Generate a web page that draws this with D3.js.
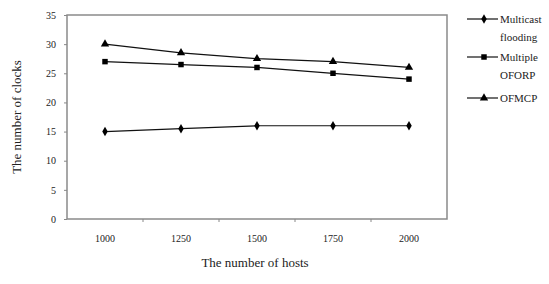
<!DOCTYPE html>
<html>
<head>
<meta charset="utf-8">
<script src="https://cdn.jsdelivr.net/npm/d3@7"></script>
<style>
  body { margin: 0; background: #fff; }
  text { font-family: "Liberation Serif", "DejaVu Serif", serif; fill: #222; }
</style>
</head>
<body>
<svg id="chart" width="549" height="284"></svg>
<script>
const hosts = ['1000', '1250', '1500', '1750', '2000'];
const yTicks = [0, 5, 10, 15, 20, 25, 30, 35];
const flooding = [15, 15.5, 16, 16, 16];
const oforp = [27, 26.5, 26, 25, 24];
const ofmcp = [30, 28.5, 27.5, 27, 26];

const seriesNames = [['Multicast', 'flooding'], ['Multiple', 'OFORP'], ['OFMCP']];
const seriesValues = [flooding, oforp, ofmcp];
const symbols = [d3.symbolDiamond, d3.symbolSquare, d3.symbolTriangle];
const symbolSizes = [26, 30, 30];

const svg = d3.select('#chart');
const plot = { left: 67, right: 447, top: 15, bottom: 219 };

const x = d3.scaleBand().domain(hosts).range([plot.left, plot.right]);
const y = d3.scaleLinear().domain([0, 35]).range([plot.bottom, plot.top]);

// frame
svg.append('rect')
  .attr('x', plot.left).attr('y', plot.top)
  .attr('width', plot.right - plot.left).attr('height', plot.bottom - plot.top)
  .attr('fill', 'none').attr('stroke', '#8a8a8a').attr('stroke-width', 1.5);

// y axis
const yAxis = svg.append('g')
  .attr('transform', `translate(${plot.left},0)`)
  .call(d3.axisLeft(y).tickValues(yTicks).tickSize(3).tickPadding(8));
yAxis.select('.domain').remove();
yAxis.selectAll('line').attr('stroke', '#888');
yAxis.selectAll('text').style('font-size', '10px').attr('fill', '#333')
  .style('font-family', '"Liberation Serif", serif');

// x axis, ticks between categories
const xAxis = svg.append('g')
  .attr('transform', `translate(0,${plot.bottom})`)
  .call(d3.axisBottom(x).tickSize(0).tickPadding(16));
xAxis.select('.domain').remove();
xAxis.selectAll('text').style('font-size', '10px').attr('fill', '#333')
  .style('font-family', '"Liberation Serif", serif');
svg.append('g').selectAll('line')
  .data(hosts.slice(1))
  .join('line')
  .attr('x1', d => x(d)).attr('x2', d => x(d))
  .attr('y1', plot.bottom).attr('y2', plot.bottom + 3)
  .attr('stroke', '#888');

// axis titles
svg.append('text')
  .attr('transform', `translate(21,${(plot.top + plot.bottom) / 2}) rotate(-90)`)
  .attr('text-anchor', 'middle')
  .style('font-size', '13px')
  .text('The number of clocks');
svg.append('text')
  .attr('x', (plot.left + plot.right) / 2 - 2).attr('y', 267)
  .attr('text-anchor', 'middle')
  .style('font-size', '13px')
  .text('The number of hosts');

// series
const line = d3.line()
  .x((d, i) => x(hosts[i]) + x.bandwidth() / 2)
  .y(d => y(d));

seriesValues.forEach((vals, s) => {
  svg.append('path')
    .datum(vals)
    .attr('d', line)
    .attr('fill', 'none').attr('stroke', '#111').attr('stroke-width', 1.2);
  svg.append('g').selectAll('path')
    .data(vals)
    .join('path')
    .attr('transform', (d, i) => `translate(${x(hosts[i]) + x.bandwidth() / 2},${y(d)})`)
    .attr('d', d3.symbol().type(symbols[s]).size(symbolSizes[s]))
    .attr('fill', '#000');
});

// legend
const legendRows = [19, 57, 98];
const legend = svg.append('g');
seriesNames.forEach((name, s) => {
  const ly = legendRows[s];
  const g = legend.append('g').attr('transform', `translate(0,${ly})`);
  g.append('line').attr('x1', 467).attr('x2', 498).attr('y1', 0).attr('y2', 0)
    .attr('stroke', '#111').attr('stroke-width', 1.2);
  g.append('path').attr('transform', 'translate(484,0)')
    .attr('d', d3.symbol().type(symbols[s]).size(symbolSizes[s]))
    .attr('fill', '#000');
  g.selectAll('text')
    .data(name)
    .join('text')
    .attr('x', 500).attr('y', (d, i) => i * 18 + 4)
    .style('font-size', '11px')
    .text(d => d);
});
</script>
</body>
</html>
